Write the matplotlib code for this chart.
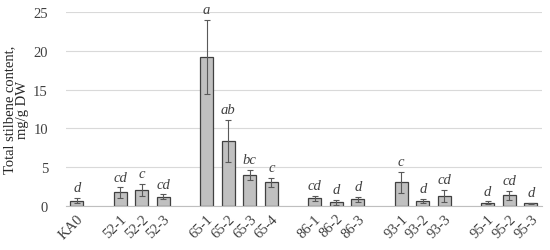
import matplotlib
matplotlib.use("Agg")
import matplotlib.pyplot as plt
import numpy as np

categories = ["KA0", "", "52-1", "52-2", "52-3", "", "65-1", "65-2", "65-3", "65-4", "",
              "86-1", "86-2", "86-3", "", "93-1", "93-2", "93-3", "", "95-1", "95-2", "95-3"]
values = [0.7, None, 1.75, 2.1, 1.2, None, 19.2, 8.4, 4.0, 3.05, None,
          1.0, 0.5, 0.85, None, 3.05, 0.65, 1.3, None, 0.45, 1.4, 0.35]
errors = [0.3, None, 0.65, 0.8, 0.3, None, 4.8, 2.7, 0.65, 0.55, None,
          0.3, 0.3, 0.3, None, 1.35, 0.25, 0.8, None, 0.15, 0.6, 0.1]
letters = ["d", "", "cd", "c", "cd", "", "a", "ab", "bc", "c", "",
           "cd", "d", "d", "", "c", "d", "cd", "", "d", "cd", "d"]

plt.rcParams['font.family'] = ['Liberation Serif', 'DejaVu Serif']

fig = plt.figure(figsize=(5.5, 2.51), dpi=100)
ax = fig.add_axes([0.12, 0.175, 0.865, 0.773])

x = np.arange(len(categories))
idx = [i for i, v in enumerate(values) if v is not None]
xv = x[idx]
vv = [values[i] for i in idx]
ev = [errors[i] for i in idx]

ax.bar(xv, vv, width=0.6, color="#c0c0c0", edgecolor="#404040", linewidth=0.9, zorder=3)
ax.errorbar(xv, vv, yerr=ev, fmt="none", ecolor="#595959", elinewidth=0.8,
            capsize=2.5, capthick=0.8, zorder=4)
for i in idx:
    ax.text(x[i], values[i] + errors[i] + 0.5, letters[i], ha="center", va="bottom",
            fontsize=10.5, style="italic", color="#404040")

ax.set_xlim(-0.5, len(categories) - 0.5)
ax.set_ylim(0, 25)
ax.set_yticks([0, 5, 10, 15, 20, 25])
ax.set_xticks(x)
ax.set_xticklabels(categories, rotation=45, ha="right", rotation_mode="anchor", fontsize=10.5, color="#404040")
ax.tick_params(axis="y", labelsize=10.5, labelcolor="#404040", length=0, pad=13)
ax.tick_params(axis="x", length=0, pad=4)
ax.yaxis.grid(True, color="#d9d9d9", linewidth=0.8, zorder=0)
for s in ["top", "right", "left"]:
    ax.spines[s].set_visible(False)
ax.spines["bottom"].set_color("#bfbfbf")
ax.spines["bottom"].set_zorder(5)
ax.set_ylabel("Total stilbene content,\nmg/g DW", fontsize=10.5, color="#262626", linespacing=1.0, labelpad=3)

fig.savefig("out.png", dpi=100)
